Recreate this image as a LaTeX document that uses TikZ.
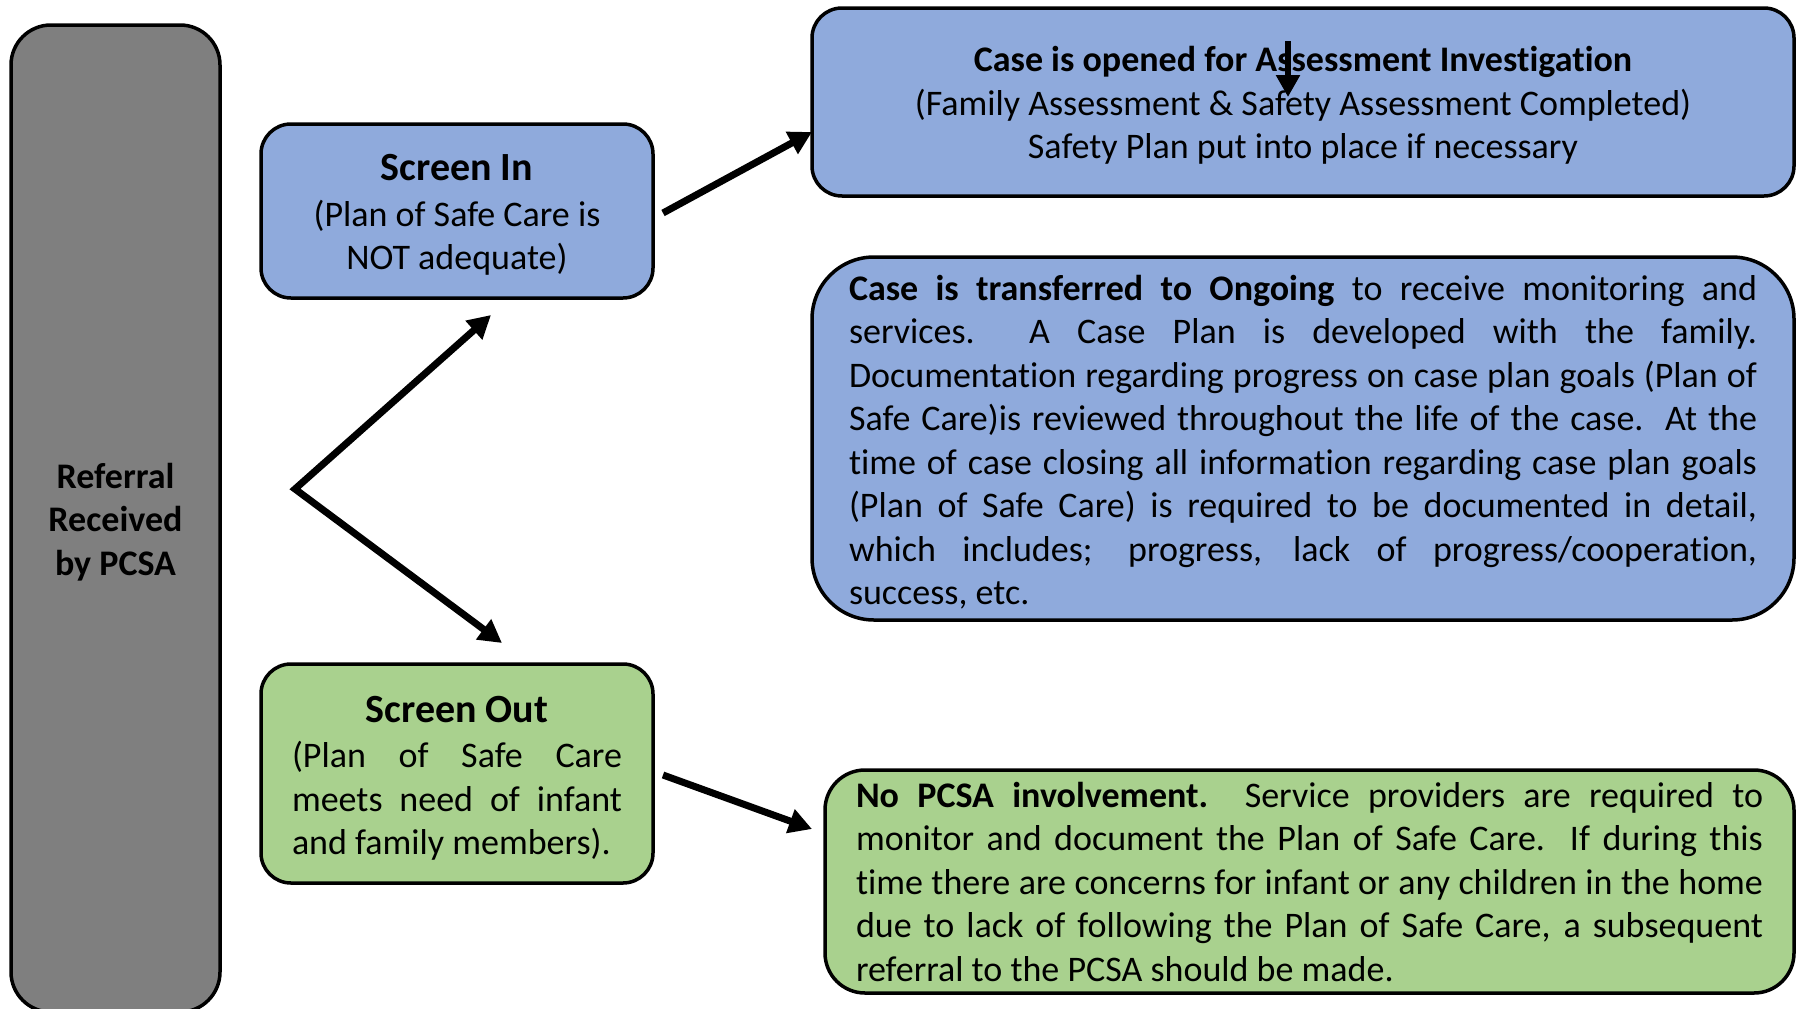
\documentclass[tikz,border=0pt]{standalone}
\usepackage{fontspec}
\setmainfont{Carlito}[Ligatures=NoCommon]
\usetikzlibrary{arrows.meta}
\definecolor{boxblue}{HTML}{8FAADC}
\definecolor{boxgreen}{HTML}{A9D18E}
\definecolor{boxgray}{HTML}{7F7F7F}
\hyphenpenalty=10000
\exhyphenpenalty=10000
\newcommand{\titlefont}{\fontsize{40}{46}\selectfont\bfseries}
\begin{document}
\begin{tikzpicture}[x=1pt,y=-1pt,
  card/.style={draw=black, line width=3.5pt, rounded corners=30pt,
    inner sep=0pt, outer sep=0pt},
  bluecard/.style={card, fill=boxblue},
  greencard/.style={card, fill=boxgreen},
  words/.style={inner sep=0pt, outer sep=0pt, font=\fontsize{36}{43.5}\selectfont},
  flow/.style={line width=7pt, -{Triangle[length=23pt,width=24pt]}},
  twoway/.style={line width=7pt, {Triangle[length=23pt,width=24pt]}-{Triangle[length=23pt,width=24pt]}},
  thinflow/.style={line width=6pt, -{Triangle[length=22pt,width=23pt]}}
]
\useasboundingbox (0,0) rectangle (1796,1009);

% boxes
\node[card, fill=boxgray, rounded corners=40pt, minimum width=209pt, minimum height=987pt] (ref) at (115.5,518.5) {};
\node[bluecard, minimum width=392pt, minimum height=174pt] (sin) at (457,211) {};
\node[greencard, minimum width=392pt, minimum height=219pt] (sout) at (457,773.5) {};
\node[bluecard, minimum width=982pt, minimum height=188pt] (top) at (1303,102) {};
\node[bluecard, rounded corners=62pt, minimum width=982pt, minimum height=363pt] (mid) at (1303,438.5) {};
\node[greencard, rounded corners=40pt, minimum width=969pt, minimum height=223pt] (bot) at (1309.5,881.5) {};

% box texts
\node[words, align=center, font=\fontsize{36}{43.5}\selectfont\bfseries] (reft) at ([yshift=-3.5pt]ref.center)
  {Referral\\Received\\by PCSA};
\node[words, align=center] (sint) at ([yshift=-4pt]sin.center)
  {{\titlefont Screen In}\\[2pt](Plan of Safe Care is\\NOT adequate)};
\node[words, text width=330pt, align=justify] (soutt) at ([yshift=-5pt]sout.center)
  {\makebox[\linewidth]{\titlefont Screen Out}\\[2pt]
   (Plan of Safe Care\linebreak meets need of infant\linebreak and family members).};
\node[words, align=center] (topt) at ([yshift=-3.5pt]top.center)
  {\textbf{Case is opened for Assessment Investigation}\\
   (Family Assessment \& Safety Assessment Completed)\\
   Safety Plan put into place if necessary};
\node[words, text width=908pt, align=justify] (midt) at ([yshift=-3.5pt]mid.center)
  {\textbf{Case is transferred to Ongoing} to receive monitoring and\linebreak
   services.\ \ A Case Plan is developed with the family.\linebreak
   Documentation regarding progress on case plan goals (Plan of\linebreak
   Safe Care)is reviewed throughout the life of the case.\ \ At the\linebreak
   time of case closing all information regarding case plan goals\linebreak
   (Plan of Safe Care) is required to be documented in detail,\linebreak
   which includes; progress, lack of progress/cooperation,\linebreak
   success, etc.};
\node[words, text width=907pt, align=justify] (bott) at ([yshift=-0.5pt]bot.center)
  {\textbf{No PCSA involvement.}\ \ Service providers are required to\linebreak
   monitor and document the Plan of Safe Care.\ \ If during this\linebreak
   time there are concerns for infant or any children in the home\linebreak
   due to lack of following the Plan of Safe Care, a subsequent\linebreak
   referral to the PCSA should be made.};

% connectors
\coordinate (fork) at (295,489);
\draw[twoway] ([xshift=34pt,yshift=-17pt]sin.south) -- (fork) -- ([xshift=45pt,yshift=21pt]sout.north);
\draw[flow] ([xshift=10pt,yshift=-2pt]sin.east) -- ([yshift=-30pt]top.west);
\draw[flow] ([xshift=10pt,yshift=-1.5pt]sout.east) -- ([xshift=-13pt,yshift=52.5pt]bot.west);
\draw[thinflow] ([xshift=-15pt,yshift=-33pt]top.north) -- ([xshift=-15pt,yshift=5pt]top.center);
\end{tikzpicture}
\end{document}
